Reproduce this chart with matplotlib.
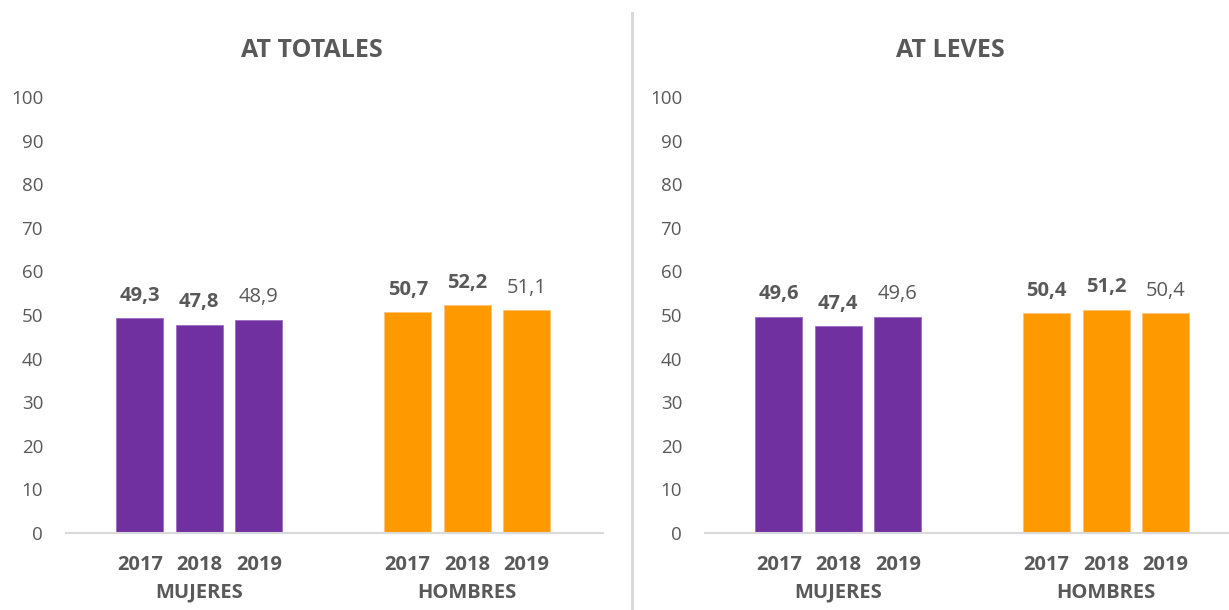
import matplotlib
matplotlib.use("Agg")
import matplotlib.pyplot as plt
from matplotlib.transforms import blended_transform_factory

plt.rcParams['font.family'] = ['Open Sans', 'DejaVu Sans']

years = ["2017", "2018", "2019"]
groups = ["MUJERES", "HOMBRES"]
titles = ["AT TOTALES", "AT LEVES"]
totales_mujeres = [49.3, 47.8, 48.9]
totales_hombres = [50.7, 52.2, 51.1]
leves_mujeres = [49.6, 47.4, 49.6]
leves_hombres = [50.4, 51.2, 50.4]

purple = "#7030A0"
orange = "#FF9900"
gray = "#595959"

W, H = 1229, 610
fig = plt.figure(figsize=(W / 100, H / 100), dpi=100)

def fmt(v):
    return f"{v:.1f}".replace(".", ",")

panels = [
    (titles[0], totales_mujeres, totales_hombres, 66),
    (titles[1], leves_mujeres, leves_hombres, 705),
]
pos_m = [0, 1, 2]
pos_h = [4.5, 5.5, 6.5]
for title, muj, hom, x0 in panels:
    ax = fig.add_axes([x0 / W, 1 - 533 / H, 537 / W, 436 / H])
    ax.bar(pos_m, muj, width=0.79, color=purple, edgecolor="#9a6cc0", linewidth=0.6)
    ax.bar(pos_h, hom, width=0.79, color=orange, edgecolor="#ffc27a", linewidth=0.6)
    ax.set_xlim(-1.24, 7.78)
    ax.set_ylim(0, 100)
    ax.set_yticks(range(0, 101, 10))
    ax.tick_params(axis='y', length=0, pad=16.5, labelsize=13.5, labelcolor=gray)
    ax.set_xticks(pos_m + pos_h)
    ax.set_xticklabels([])
    ax.tick_params(axis='x', length=0)
    for s in ["left", "right", "top"]:
        ax.spines[s].set_visible(False)
    ax.spines["bottom"].set_color("#d9d9d9")
    ax.spines["bottom"].set_linewidth(1.5)
    tr = blended_transform_factory(ax.transData, ax.transAxes)
    for vals, pos in ((muj, pos_m), (hom, pos_h)):
        for i, (p, v) in enumerate(zip(pos, vals)):
            ax.annotate(fmt(v), (p, v), xytext=(0, 12.5), textcoords="offset points",
                        ha='center', va='baseline', fontsize=14.5, color=gray,
                        fontweight='bold' if i < 2 else 'normal')
            ax.text(p, -0.0849, years[i], transform=tr, ha='center', va='baseline',
                    fontsize=14.5, fontweight='bold', color=gray)
    ax.text(1, -0.149, groups[0], transform=tr, ha='center', va='baseline',
            fontsize=14.5, fontweight='bold', color=gray)
    ax.text(5.5, -0.149, groups[1], transform=tr, ha='center', va='baseline',
            fontsize=14.5, fontweight='bold', color=gray)
    ax.text(0.457, 1.0917, title, transform=ax.transAxes, ha='center', va='baseline',
            fontsize=18, fontweight='bold', color=gray)

fig.add_artist(plt.Line2D([632 / W, 632 / W], [0, 1 - 13 / H], color="#d9d9d9",
                          linewidth=2.2, transform=fig.transFigure))

fig.savefig("out.png", dpi=100)
